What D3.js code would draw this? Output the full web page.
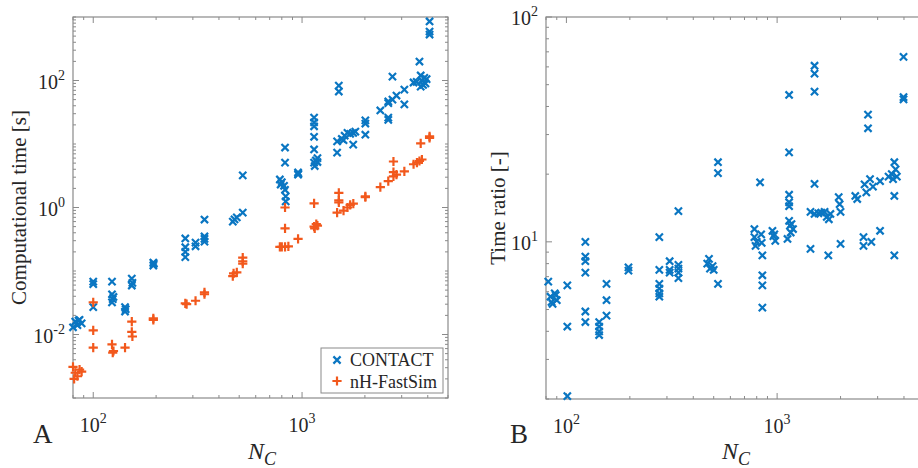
<!DOCTYPE html>
<html><head><meta charset="utf-8">
<script src="https://cdn.jsdelivr.net/npm/d3@7"></script>
<style>
body{margin:0;background:#fff}
svg{display:block}
text{font-family:"Liberation Serif","Times New Roman",serif;fill:#262626}
</style>
</head><body><svg id="c" width="918" height="468"></svg>
<script>
// ---- DATA ----
const contactTime = [
[82,0.016],[84,0.014],[86,0.017],[88,0.015],[80,0.013],[85,0.0165],
[100,0.068],[100,0.062],[100,0.027],
[123,0.068],[123,0.043],[124,0.036],[123,0.032],[125,0.039],
[142,0.027],[142,0.023],[143,0.025],
[153,0.076],[153,0.059],[154,0.065],
[194,0.136],[194,0.122],[195,0.13],
[276,0.325],[276,0.237],[276,0.2],[276,0.165],
[309,0.28],[309,0.245],
[341,0.647],[341,0.35],[341,0.32],[341,0.29],
[466,0.6],[475,0.65],[487,0.7],
[520,0.83],[520,3.2],
[783,2.76],[790,2.3],[800,2.5],
[829,8.8],[829,5.1],[829,1.9],[835,1.5],[835,1.25],[820,2.2],
[957,3.56],[957,3.3],[960,3.4],
[1142,26],[1142,22],[1142,19],[1142,13],[1142,8.2],[1142,5.1],[1150,4.5],[1165,5.5],[1185,5.2],[1185,6.0],
[1472,7.3],[1472,11],
[1500,83],[1500,67],
[1550,12],[1600,13.5],[1650,15],[1580,11.5],[1700,14.5],
[1758,15],[1758,9.8],[1800,15.7],
[2010,23.5],[2010,21],[2010,14],
[2371,33.7],
[2588,46.7],[2588,44],[2588,26],[2588,24],
[2710,115],[2710,50],
[2833,58],
[3090,72],[3090,42],
[3420,93],
[3540,95],[3650,199],[3700,120],[3750,100],[3800,85],[3850,110],[3900,90],[3950,105],[3700,80],
[4080,850],[4080,590],[4080,530]
];
const fastSimTime = [
[80,0.0031],[82,0.0025],[84,0.0022],[86,0.0028],[88,0.0026],[81,0.0020],
[100,0.032],[100,0.0116],[100,0.0062],
[123,0.0070],[124,0.0052],[125,0.0055],
[142,0.0062],
[153,0.0159],[153,0.011],[154,0.0093],
[194,0.018],[194,0.017],
[276,0.031],[280,0.030],
[309,0.034],
[341,0.046],[341,0.043],
[466,0.083],[470,0.092],[487,0.095],
[520,0.163],[520,0.142],[520,0.13],
[783,0.24],[800,0.24],
[829,1.0],[829,0.47],[829,0.24],[860,0.245],
[957,0.32],
[1142,1.16],[1142,0.5],[1150,0.47],[1185,0.52],[1170,0.55],
[1472,0.83],
[1500,1.7],[1500,1.3],[1500,1.2],
[1580,0.89],[1650,1.0],[1700,1.1],[1760,1.15],
[2010,1.5],[2010,1.45],
[2371,2.1],
[2588,2.6],
[2740,5.3],[2740,3.6],[2740,3.1],[2833,3.3],
[3090,3.7],
[3420,4.8],[3550,5.1],[3650,5.4],[3750,5.7],[3700,10.2],
[4080,13.2],[4080,12.5]
];
const timeRatio = [
[82,6.65],[84,5.7],[86,5.3],[88,5.9],[85,5.4],[90,5.5],[89,5.8],
[101,6.4],[101,4.2],[101,2.06],
[123,10.0],[123,8.6],[123,8.2],[123,7.3],[123,4.9],[123,4.4],
[143,4.4],[143,4.2],[143,4.0],[143,3.85],
[155,6.5],[155,5.5],[155,4.7],
[197,7.7],[197,7.45],
[276,10.5],[276,7.5],[276,6.5],[276,6.2],[276,5.9],[276,5.7],
[309,8.2],[309,7.5],[309,7.3],
[340,13.7],[340,7.9],[340,7.6],[340,7.3],[340,6.9],
[466,8.0],[475,8.4],[494,7.8],[480,7.6],[500,7.5],
[524,22.6],[524,20.2],[524,6.5],
[780,11.4],[780,10.5],[790,9.6],[800,10.0],[830,18.4],[840,10.8],[845,9.9],[851,8.7],[851,7.1],[851,6.4],[851,5.1],
[950,11.2],[960,10.6],[980,10.1],[970,10.8],
[1140,45],[1140,25],[1140,16.2],[1140,15],[1140,14.4],[1140,12.4],[1150,11.8],[1160,11],[1120,10.3],[1190,11.4],[1170,12.0],
[1440,13.6],[1440,9.3],
[1505,60.7],[1505,56],[1505,46.6],[1505,18.1],[1505,13.3],
[1570,13.4],[1620,13.5],[1680,13.6],[1720,12.9],[1790,13.3],[1760,12.6],
[1750,8.7],
[1960,15.8],[1980,14.7],[2000,13.6],[2000,9.8],
[2350,16],[2400,15.5],
[2570,10.5],[2570,9.6],[2600,18],[2650,16.6],
[2700,36.8],[2700,32],
[2760,19],[2850,17.6],[2800,10],
[3080,18.6],[3080,11.2],
[3380,19.5],[3500,20],[3600,22.6],[3650,21],[3700,19.5],[3550,19],[3600,16],[3600,8.7],
[3980,66.5],[3980,44],[3980,43]
];
const xMajorTicks = [100, 1000];
const xTickExp = ["2", "3"];
const leftYMajor = [1e-2, 1, 1e2];
const leftYExp = ["-2", "0", "2"];
const rightYMajor = [10, 100];
const rightYExp = ["1", "2"];
const seriesNames = ["CONTACT", "nH-FastSim"];

// ---- DRAW ----
const svg = d3.select("#c");
const BLUE = "#0a76c2", ORANGE = "#f2581c", AX = "#8a8a8a";

function minorTicks(lo, hi) {
  const out = [];
  for (let e = Math.floor(Math.log10(lo)); e <= Math.ceil(Math.log10(hi)); e++) {
    for (let m = 1; m <= 9; m++) {
      const v = m * Math.pow(10, e);
      if (v >= lo * 0.999 && v <= hi * 1.001) out.push(v);
    }
  }
  return out;
}

function panel(o) {
  const g = svg.append("g");
  const x = d3.scaleLog().domain(o.xd).range(o.xr);
  const y = d3.scaleLog().domain(o.yd).range(o.yr);
  const [x0, x1] = o.xr, [y0, y1] = [o.yr[1], o.yr[0]];
  // ticks
  const tg = g.append("g").attr("stroke", AX).attr("stroke-width", 1);
  const xm = minorTicks(o.xd[0], o.xd[1]);
  xm.forEach(v => {
    const L = xMajorTicks.includes(v) ? 6 : 3;
    const px = x(v);
    tg.append("line").attr("x1", px).attr("x2", px).attr("y1", y1).attr("y2", y1 - L);
    tg.append("line").attr("x1", px).attr("x2", px).attr("y1", y0).attr("y2", y0 + L);
  });
  const ym = minorTicks(o.yd[0], o.yd[1]);
  ym.forEach(v => {
    const L = o.yMajor.includes(v) ? 6 : 3;
    const py = y(v);
    tg.append("line").attr("x1", x0).attr("x2", x0 + L).attr("y1", py).attr("y2", py);
    tg.append("line").attr("x1", x1).attr("x2", x1 - L).attr("y1", py).attr("y2", py);
  });
  g.append("rect").attr("x", x0).attr("y", y0).attr("width", x1 - x0).attr("height", y1 - y0)
    .attr("fill", "none").attr("stroke", AX).attr("stroke-width", 1.2);
  // x tick labels
  xMajorTicks.forEach((v, i) => {
    const t = g.append("text").attr("x", x(v)).attr("y", y1 + 34).attr("text-anchor", "middle")
      .attr("font-size", 20);
    t.append("tspan").text("10");
    t.append("tspan").attr("dy", -9).attr("font-size", 14).text(xTickExp[i]);
  });
  // y tick labels
  o.yMajor.forEach((v, i) => {
    const t = g.append("text").attr("x", x0 - 8).attr("y", y(v) + 8).attr("text-anchor", "end")
      .attr("font-size", 20);
    t.append("tspan").text("10");
    t.append("tspan").attr("dy", -9).attr("font-size", 14).text(o.yExp[i]);
  });
  // labels
  g.append("text").attr("transform", `translate(${o.ylx},${(y0 + y1) / 2}) rotate(-90)`)
    .attr("text-anchor", "middle").attr("dominant-baseline", "central").attr("font-size", 21).text(o.ylabel);
  const nt = g.append("text").attr("x", o.nx).attr("y", 459).attr("font-size", 24).attr("font-style", "italic");
  nt.append("tspan").text("N");
  nt.append("tspan").attr("dy", 6).attr("font-size", 18).text("C");
  g.append("text").attr("x", o.lx).attr("y", 443).attr("font-size", 27).text(o.letter);
  return {g, x, y};
}

function drawX(g, data, x, y, color) {
  const s = 3.6;
  g.append("g").selectAll("path").data(data).join("path")
    .attr("d", d => { const px = x(d[0]), py = y(d[1]);
      return `M${px-s},${py-s}L${px+s},${py+s}M${px-s},${py+s}L${px+s},${py-s}`; })
    .attr("stroke", color).attr("stroke-width", 2.2).attr("fill", "none");
}
function drawPlus(g, data, x, y, color) {
  const s = 4.6;
  g.append("g").selectAll("path").data(data).join("path")
    .attr("d", d => { const px = x(d[0]), py = y(d[1]);
      return `M${px-s},${py}L${px+s},${py}M${px},${py-s}L${px},${py+s}`; })
    .attr("stroke", color).attr("stroke-width", 2.2).attr("fill", "none");
}

// Panel A
const A = panel({xd: [80, 5000], xr: [73, 448], yd: [1e-3, 1e3], yr: [398, 17],
  yMajor: leftYMajor, yExp: leftYExp, ylabel: "Computational time [s]", ylx: 19,
  nx: 248, lx: 33, letter: "A"});
drawX(A.g, contactTime, A.x, A.y, BLUE);
drawPlus(A.g, fastSimTime, A.x, A.y, ORANGE);
// legend
const lg = A.g.append("g");
lg.append("rect").attr("x", 321).attr("y", 348).attr("width", 122).attr("height", 45)
  .attr("fill", "#fff").attr("stroke", AX).attr("stroke-width", 1);
drawX(lg, [[0, 0]], () => 337, () => 360, BLUE);
drawPlus(lg, [[0, 0]], () => 337, () => 381, ORANGE);
lg.append("text").attr("x", 350).attr("y", 366).attr("font-size", 18).text(seriesNames[0]);
lg.append("text").attr("x", 350).attr("y", 388).attr("font-size", 18).text(seriesNames[1]);

// Panel B
const B = panel({xd: [80, 5000], xr: [546, 924.4], yd: [2, 100], yr: [399, 17],
  yMajor: rightYMajor, yExp: rightYExp, ylabel: "Time ratio [-]", ylx: 498,
  nx: 722, lx: 510, letter: "B"});
drawX(B.g, timeRatio, B.x, B.y, BLUE);
</script></body></html>
